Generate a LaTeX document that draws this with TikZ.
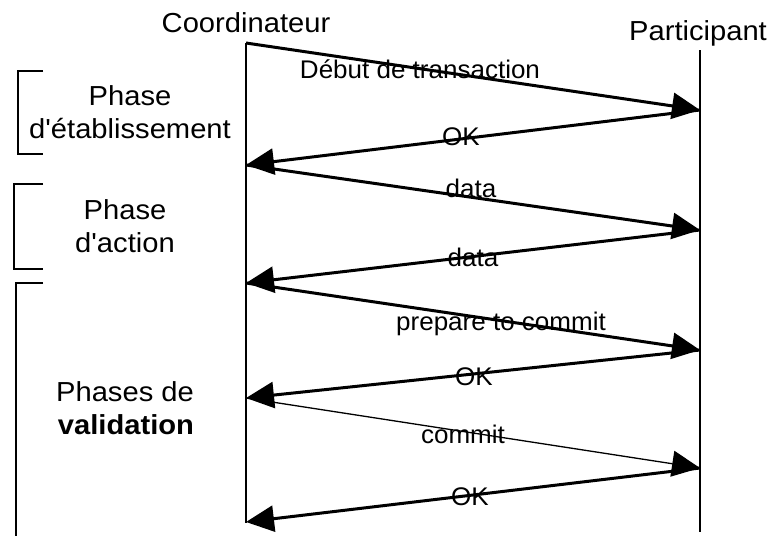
\documentclass[tikz,border=0pt]{standalone}
\usepackage{fontspec}
\setmainfont{Liberation Sans}
\newfontfamily\titlefont[FakeStretch=1.06]{Liberation Sans}
\newfontfamily\msgfont[FakeStretch=1.02]{Liberation Sans}
\usetikzlibrary{arrows.meta}
\begin{document}
\begin{tikzpicture}[x=1pt,y=-1pt,
  title/.style={font=\titlefont\fontsize{27.5}{33}\selectfont, anchor=base, inner sep=0pt},
  phaselabel/.style={font=\titlefont\fontsize{27.5}{33}\selectfont, align=center, anchor=base, inner sep=0pt},
  msg/.style={font=\msgfont\fontsize{25.5}{28}\selectfont, anchor=base, inner sep=0pt},
  lifeline/.style={line width=1.5pt},
  bracket/.style={line width=1.5pt},
  message/.style={line width=3pt, -{Triangle[length=28pt,width=26pt]}},
  thinmessage/.style={line width=1.3pt, -{Triangle[length=28pt,width=26pt]}}]
  \useasboundingbox (0,0) rectangle (774,536);

  % actors
  \node[title] (coord) at (246,32) {Coordinateur};
  \node[title] (part) at (698,40) {Participant};

  % lifelines
  \coordinate (ctop) at (246,43);
  \coordinate (cbot) at (246,523);
  \coordinate (ptop) at (700,50);
  \coordinate (pbot) at (700,532);
  \draw[lifeline] (ctop) -- (cbot);
  \draw[lifeline] (ptop) -- (pbot);

  % message end points
  \coordinate (c0) at (246,43);
  \coordinate (p1) at (700,110);
  \coordinate (c1) at (246,165);
  \coordinate (p2) at (700,230);
  \coordinate (c2) at (246,283);
  \coordinate (p3) at (700,350);
  \coordinate (c3) at (246,398);
  \coordinate (p4) at (700,468);
  \coordinate (c4) at (246,522);

  % messages
  \draw[message] (c0) -- (p1);
  \draw[message] (p1) -- (c1);
  \draw[message] (c1) -- (p2);
  \draw[message] (p2) -- (c2);
  \draw[message] (c2) -- (p3);
  \draw[message] (p3) -- (c3);
  \draw[thinmessage] (c3) -- (p4);
  \draw[message] (p4) -- (c4);

  % message labels
  \node[msg] (m1) at (420,78) {Début de transaction};
  \node[msg] (m2) at (461,145) {OK};
  \node[msg] (m3) at (471,197) {data};
  \node[msg] (m4) at (473,266) {data};
  \node[msg] (m5) at (501,330) {prepare to commit};
  \node[msg] (m6) at (474,385) {OK};
  \node[msg] (m7) at (463,443) {commit};
  \node[msg] (m8) at (470,505) {OK};

  % phase brackets
  \draw[bracket] (43,71) -- (18,71) -- (18,154) -- (43,154);
  \draw[bracket] (43,184) -- (14,184) -- (14,269) -- (43,269);
  \draw[bracket] (43,283) -- (16,283) -- (16,536);

  % phase labels
  \node[phaselabel] (ph1) at (130,105) {Phase};
  \node[phaselabel] (ph1b) at (130,138) {d'établissement};
  \node[phaselabel] (ph2) at (125,219) {Phase};
  \node[phaselabel] (ph2b) at (125,252) {d'action};
  \node[phaselabel] (ph3) at (125,401) {Phases de};
  \node[phaselabel] (ph3b) at (126,434) {\bfseries validation};
\end{tikzpicture}
\end{document}
